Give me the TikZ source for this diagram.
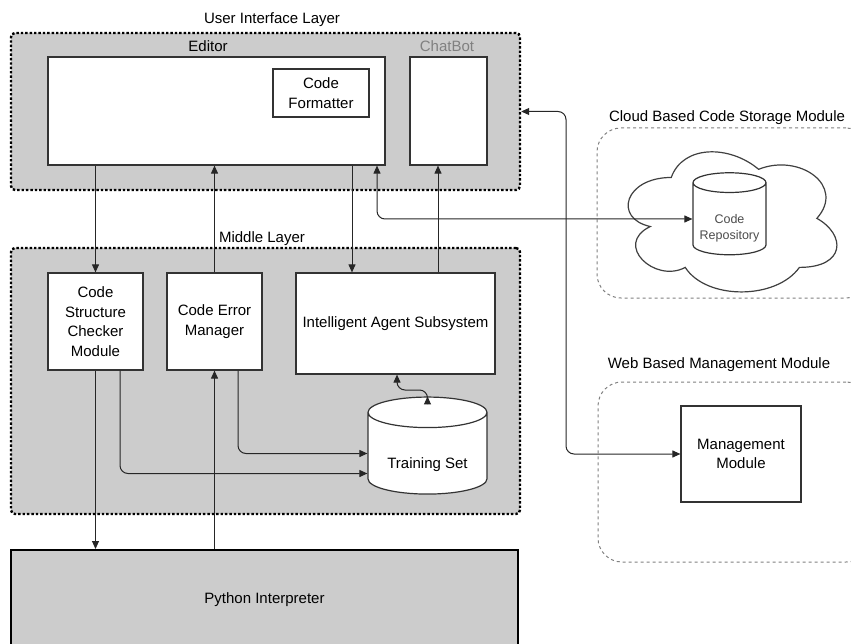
\documentclass[tikz,border=0pt]{standalone}
\usepackage{fontspec}
\setmainfont{Liberation Sans}
\usetikzlibrary{shapes.geometric,arrows.meta}
\definecolor{boxgray}{HTML}{CCCCCC}
\newcommand\diagfont{\fontsize{15}{19.5}\selectfont}
\newcommand\smallfont{\fontsize{12.5}{16}\selectfont}
\tikzset{
  layer/.style={draw, fill=boxgray, line width=2.4pt, dash pattern=on 2.4pt off 2pt, rounded corners=4pt, inner sep=0pt},
  block/.style={draw=black!80, fill=white, line width=1.2pt, align=center, inner sep=0pt, font=\diagfont},
  store/.style={block, cylinder, shape border rotate=90},
  module/.style={draw=black!50, line width=1pt, dash pattern=on 3pt off 3pt, rounded corners=24pt, inner sep=0pt},
  title/.style={font=\diagfont, inner sep=0pt, align=center},
  tip/.tip={Triangle[length=8pt,width=7pt]},
  link/.style={-tip, line width=1pt, draw=black!85, rounded corners=8pt},
  both/.style={link, tip-tip}
}
\begin{document}
\begin{tikzpicture}[x=1pt,y=-1pt]
      \useasboundingbox (0,0) rectangle (851,644);
      \clip (0,0) rectangle (851,644);

      \node[layer, minimum width=509pt, minimum height=157pt] (ui) at (265.5,111.5) {};
      \node[layer, minimum width=509pt, minimum height=266pt] (mid) at (265.5,381) {};
      \node[draw, fill=boxgray, line width=2pt, minimum width=507pt, minimum height=100pt, font=\diagfont] (python) at (264.5,600) {Python Interpreter};

      \node[title] (uilbl) at (272,20) {User Interface Layer};
      \node[title] (midlbl) at (262,239) {Middle Layer};
      \node[title] (editorlbl) at (208,46) {Editor};
      \node[title, text=black!50] (chatlbl) at (447,46) {ChatBot};

      \node[block, minimum width=337pt, minimum height=108pt] (editor) at (216.5,111) {};
      \node[block, minimum width=96pt, minimum height=48pt] (formatter) at (321,93) {Code\\Formatter};
      \node[block, minimum width=77pt, minimum height=108pt] (chatbot) at (448.5,111) {};

      \node[block, minimum width=95pt, minimum height=97pt] (checker) at (95.5,321.5) {Code\\Structure\\Checker\\Module};
      \node[block, minimum width=95pt, minimum height=97pt] (errors) at (214.5,321.5) {Code Error\\Manager};
      \node[block, minimum width=199pt, minimum height=101pt] (agent) at (395.5,323.5) {Intelligent Agent Subsystem};
      \node[store, aspect=0.38, minimum width=119pt, minimum height=97pt] (training) at (427.5,453.5) {\phantom{Training Set}};
      \node[title] (traininglbl) at (427.5,465) {Training Set};

      \node[module, minimum width=273pt, minimum height=170pt] (cloudbox) at (733.5,213) {};
      \node[title] (cloudlbl) at (727,118) {Cloud Based Code Storage Module};
      \begin{scope}[shift={(613,136.6)}, x=2.33pt, y=-1.635pt]
        \draw[draw=black!75, line width=1.2pt, fill=white] (25,25) .. controls (5,25) and (0,50) .. (16,55)
          .. controls (0,66) and (18,90) .. (31,80) .. controls (40,100) and (70,100) .. (80,80)
          .. controls (100,80) and (100,60) .. (87.5,50) .. controls (100,30) and (80,10) .. (62.5,20)
          .. controls (50,5) and (30,5) .. (25,25) -- cycle;
      \end{scope}
      \node[store, aspect=0.33, font=\smallfont, minimum width=73pt, minimum height=82pt] (repo) at (729.5,219) {\phantom{Repository}};
      \node[title, font=\smallfont, text=black!70] (repolbl) at (729.5,228) {Code\\Repository};

      \node[module, minimum width=272pt, minimum height=180pt] (webbox) at (734,472) {};
      \node[title] (weblbl) at (719,365) {Web Based Management Module};
      \node[block, minimum width=120pt, minimum height=96pt] (manager) at (741,454) {Management\\Module};

      \coordinate (bend) at (566,0);

      \draw[link] (editor.south -| checker.north) -- (checker.north);
      \draw[link] (errors.north) -- (errors.north |- editor.south);
      \draw[link] (352,0 |- editor.south) -- (352,0 |- agent.north);
      \draw[link] (438,0 |- agent.north) -- (438,0 |- chatbot.south);
      \draw[both] (377,0 |- editor.south) |- (repo.west);
      \draw[both] (ui.east) -| (bend |- manager.west) -- (manager.west);
      \draw[link] (checker.south) -- (checker.south |- python.north);
      \draw[link] (errors.south |- python.north) -- (errors.south);
      \draw[link] (120,0 |- checker.south) |- ([yshift=-20pt]training.west);
      \draw[link] (238,0 |- errors.south) |- (training.west);
      \draw[both] (397,0 |- agent.south) |- (training.north |- 0,390) -- (training.north);
\end{tikzpicture}
\end{document}
